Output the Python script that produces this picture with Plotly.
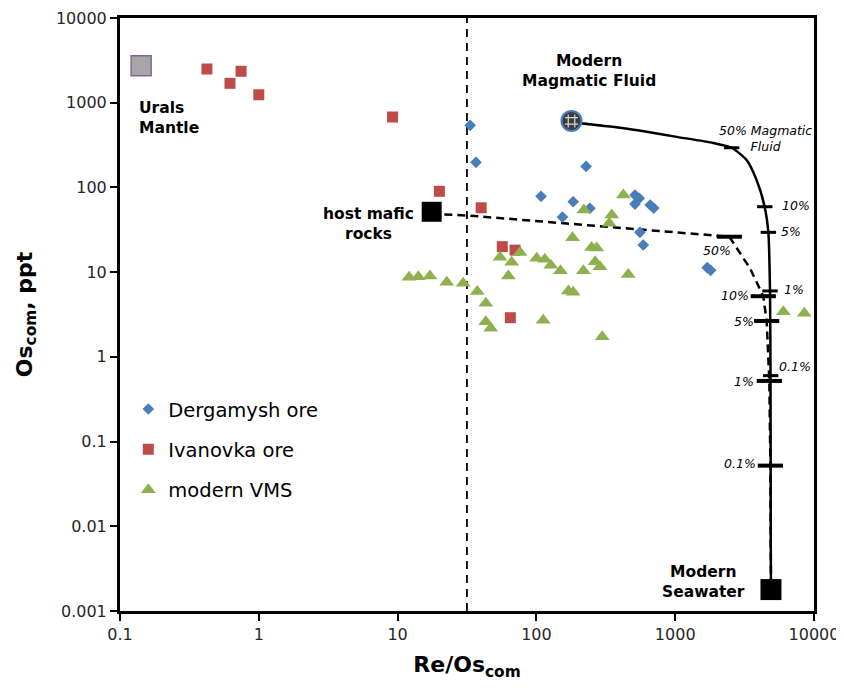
import numpy as np
import plotly.graph_objects as go

# ---------------- data ----------------
dergamysh_x = [33.3, 36.7, 228, 108, 184, 243, 154, 513, 551, 513, 660, 700, 557, 589, 1700, 1800]
dergamysh_y = [541, 198, 177, 78.5, 67.8, 56.6, 44.7, 81.3, 74.3, 63.6, 62, 57, 29.5, 20.9, 11.3, 10.5]

ivanovka_x = [0.423, 0.62, 0.745, 1.0, 9.2, 20, 40, 56.8, 70.2, 64.9]
ivanovka_y = [2500, 1694, 2350, 1241, 678, 90, 57.5, 20, 18.2, 2.9]

vms_x = [12.1, 14.1, 17.1, 22.6, 29.7, 37.5, 43.2, 43.2, 46.9, 54.7, 62.8, 66.3, 76.2, 100.5,
         115, 127, 149, 170, 184, 112, 182, 220, 218, 250, 272, 265, 287, 349, 335, 423, 459,
         298, 6012, 8510]
vms_y = [8.7, 8.8, 9.0, 7.6, 7.4, 5.9, 4.3, 2.6, 2.17, 15, 9.0, 13.1, 17, 14.6,
         14.2, 12.1, 10.4, 6.0, 5.8, 2.7, 25.5, 54, 10.4, 19.6, 19.3, 13.3, 11.6, 47.2, 37.7, 81.3, 9.4,
         1.73, 3.4, 3.27]

urals_x, urals_y = [0.142], [2740]
magmatic_x, magmatic_y = [179], [610]
host_x, host_y = [17.6], [51.6]
seawater_x, seawater_y = [4898], [0.00179]

# magmatic fluid - seawater mixing curve
mix_mag_x = [179, 212, 400, 624, 1000, 1880, 2550, 3270, 3860, 4400, 4690, 4820, 4860, 4880, 4898]
mix_mag_y = [610, 571, 507, 455, 398, 335, 294, 211, 122, 60, 29.5, 6.0, 0.6, 0.006, 0.00179]
mix_mag_tick_x = [2550, 4420, 4690, 4820, 4870]
mix_mag_tick_y = [294, 59.2, 29.5, 6.0, 0.6]

# host mafic rocks - seawater mixing curve
mix_host_x = [17.6, 20.8, 33.3, 156, 358, 1000, 2455, 3459, 4311, 4560, 4767, 4850, 4898]
mix_host_y = [51.6, 48.1, 46.4, 37.7, 33.8, 29.5, 26.2, 11.1, 5.2, 2.65, 0.52, 0.052, 0.00179]
mix_host_tick_x = [2455, 4311, 4560, 4767, 4850]
mix_host_tick_y = [26.2, 5.2, 2.65, 0.52, 0.052]

divide_x = 31.6

x_tickvals = [0.1, 1, 10, 100, 1000, 10000]
x_ticktext = ["0.1", "1", "10", "100", "1000", "10000"]
y_tickvals = [0.001, 0.01, 0.1, 1, 10, 100, 1000, 10000]
y_ticktext = ["0.001", "0.01", "0.1", "1", "10", "100", "1000", "10000"]

FONT = "DejaVu Sans"
BLUE = "#4a7ebb"
RED = "#be4b48"
GREEN = "#8fb04e"

fig = go.Figure()

# vertical divider
fig.add_trace(go.Scatter(x=[divide_x, divide_x], y=[0.001, 10000], mode="lines",
                         line=dict(color="black", width=1.8, dash="8px,6px"),
                         showlegend=False, hoverinfo="skip"))

# mixing curves
fig.add_trace(go.Scatter(x=mix_host_x, y=mix_host_y, mode="lines",
                         line=dict(color="black", width=2.5, dash="8px,5px"),
                         showlegend=False, hoverinfo="skip"))
fig.add_trace(go.Scatter(x=mix_mag_x, y=mix_mag_y, mode="lines",
                         line=dict(color="black", width=2.5, shape="spline", smoothing=0.6),
                         showlegend=False, hoverinfo="skip"))

# data series
fig.add_trace(go.Scatter(x=dergamysh_x, y=dergamysh_y, mode="markers", name="Dergamysh ore",
                         marker=dict(symbol="diamond", size=9, color=BLUE),
                         legendgroup="a"))
fig.add_trace(go.Scatter(x=ivanovka_x, y=ivanovka_y, mode="markers", name="Ivanovka ore",
                         marker=dict(symbol="square", size=11, color=RED),
                         legendgroup="b"))
fig.add_trace(go.Scatter(x=vms_x, y=vms_y, mode="markers", name="modern VMS",
                         marker=dict(symbol="triangle-up", size=13, color=GREEN),
                         legendgroup="c"))

# tick marks on curves
fig.add_trace(go.Scatter(x=mix_mag_tick_x, y=mix_mag_tick_y, mode="markers",
                         marker=dict(symbol="line-ew", size=11, line=dict(color="black", width=3)),
                         showlegend=False, hoverinfo="skip"))
fig.add_trace(go.Scatter(x=mix_host_tick_x, y=mix_host_tick_y, mode="markers",
                         marker=dict(symbol="line-ew", size=18, line=dict(color="black", width=4)),
                         showlegend=False, hoverinfo="skip"))

# end members
fig.add_trace(go.Scatter(x=urals_x, y=urals_y, mode="markers",
                         marker=dict(symbol="square", size=20, color="#a6a6a6",
                                     line=dict(color="#8064a2", width=1.5)),
                         showlegend=False))
fig.add_trace(go.Scatter(x=host_x, y=host_y, mode="markers",
                         marker=dict(symbol="square", size=20, color="black"),
                         showlegend=False))
fig.add_trace(go.Scatter(x=seawater_x, y=seawater_y, mode="markers",
                         marker=dict(symbol="square", size=21, color="black"),
                         showlegend=False))
fig.add_trace(go.Scatter(x=magmatic_x, y=magmatic_y, mode="markers",
                         marker=dict(symbol="circle", size=20, color="#3c3c3c",
                                     line=dict(color=BLUE, width=2)),
                         showlegend=False))
fig.add_trace(go.Scatter(x=magmatic_x, y=magmatic_y, mode="markers",
                         marker=dict(symbol="hash-open", size=13, color="#d8d8d8",
                                     line=dict(color="#d8d8d8", width=1.2)),
                         showlegend=False, hoverinfo="skip"))

# ---------------- annotations ----------------
def ann(x, y, text, xanchor="center", size=15.5, bold=True, italic=False, align="center"):
    t = text
    if bold:
        t = "<b>" + t + "</b>"
    if italic:
        t = "<i>" + t + "</i>"
    fig.add_annotation(x=np.log10(x), y=np.log10(y), xref="x", yref="y", text=t,
                       showarrow=False, xanchor=xanchor, yanchor="middle", align=align,
                       font=dict(family=FONT, size=size, color="black"))

ann(0.132, 660, "Urals<br>Mantle", xanchor="left", align="left")
ann(239, 2400, "Modern<br>Magmatic Fluid")
ann(6.12, 37.5, "host mafic<br>rocks")
ann(1610, 0.00219, "Modern<br>Seawater")

ann(4440, 383, "50% Magmatic<br>Fluid", bold=False, italic=True, size=12.5)
for lx, ly, lt in [(5689, 61.9, "10%"), (5598, 30.5, "5%"), (5875, 6.31, "1%"), (5408, 0.778, "0.1%")]:
    ann(lx, ly, lt, xanchor="left", bold=False, italic=True, size=12.5)
for lx, ly, lt in [(2606, 18.2, "50%"), (3516, 5.37, "10%"), (3819, 2.65, "5%"),
                   (3819, 0.518, "1%"), (3954, 0.0557, "0.1%")]:
    ann(lx, ly, lt, xanchor="right", bold=False, italic=True, size=12.5)

axis_common = dict(type="log", showgrid=False, zeroline=False, showline=True, linewidth=3,
                   linecolor="black", mirror=True, ticks="outside", ticklen=7, tickwidth=2,
                   tickcolor="black", automargin=False,
                   tickfont=dict(family=FONT, size=16, color="#262626"))

# the page body adds an 8px offset, so the figure is sized to fit the 844x691 window
fig.update_layout(
    width=836, height=683,
    margin=dict(l=112, r=30, t=10, b=80),
    plot_bgcolor="white", paper_bgcolor="white",
    xaxis=dict(range=[-1, 4], tickvals=x_tickvals, ticktext=x_ticktext,
               title=dict(text="<b>Re/Os<sub>com</sub></b>", standoff=14,
                          font=dict(family=FONT, size=22, color="black")),
               **axis_common),
    yaxis=dict(range=[-3, 4], tickvals=y_tickvals, ticktext=y_ticktext,
               title=dict(text="<b>Os<sub>com</sub>, ppt</b>", standoff=18,
                          font=dict(family=FONT, size=22, color="black")),
               **axis_common),
    legend=dict(x=0.012, y=0.373, xanchor="left", yanchor="top", bgcolor="rgba(0,0,0,0)",
                font=dict(family=FONT, size=19.5, color="black"), tracegroupgap=12),
    showlegend=True,
)

fig.write_html("out.html")
